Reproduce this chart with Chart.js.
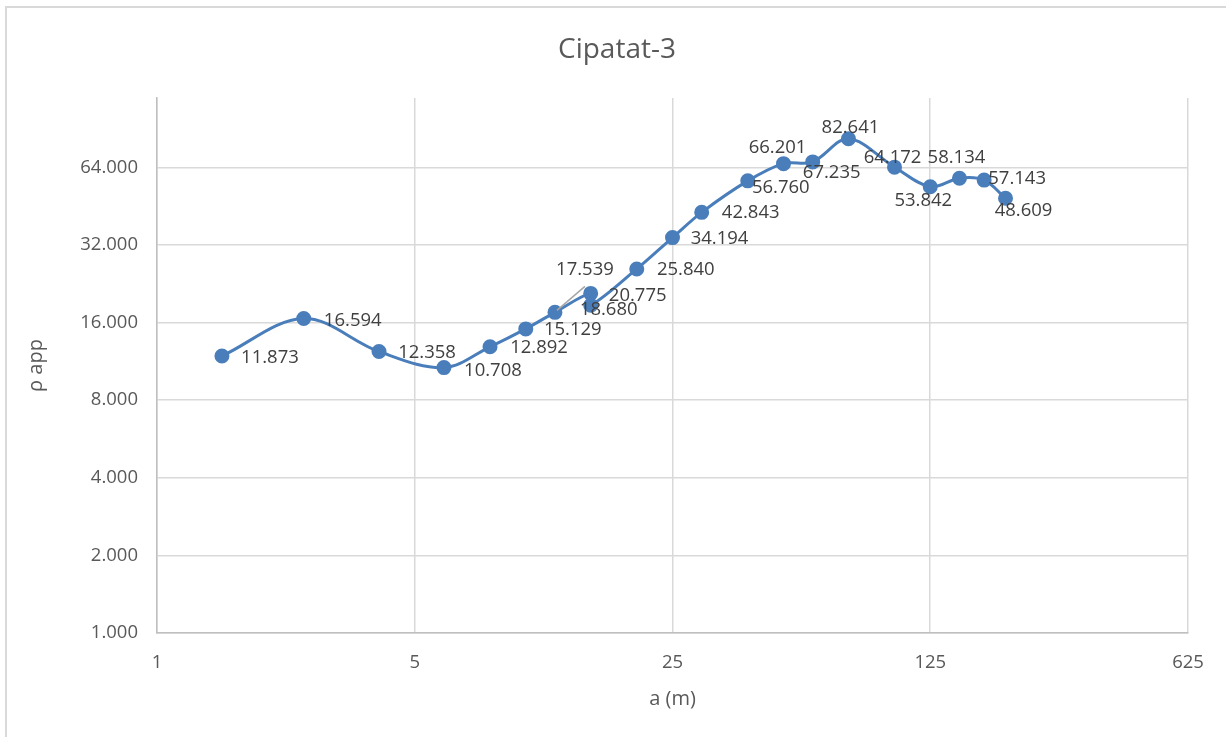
<!DOCTYPE html>
<html>
<head>
<meta charset="utf-8">
<title>Cipatat-3</title>
<script src="https://cdn.jsdelivr.net/npm/chart.js@4/dist/chart.umd.min.js"></script>
<style>
    html, body { margin: 0; padding: 0; background: #fff; }
    #wrap { position: relative; width: 1226px; height: 737px; overflow: hidden; }
    #frame { position: absolute; left: 5px; top: 6px; width: 1300px; height: 800px;
             border-left: 2px solid #d9d9d9; border-top: 2px solid #d9d9d9; }
    canvas { position: absolute; left: 0; top: 0; }
</style>
</head>
<body>
<div id="wrap">
    <div id="frame"></div>
    <canvas id="sondingChart" width="1226" height="737"></canvas>
</div>
<script>
// spasi elektroda a (m)
const spacing = [1.5, 2.5, 4, 6, 8, 10, 12, 15, 15, 20, 25, 30, 40, 50, 60, 75, 100, 125, 150, 175, 200];
// resistivitas semu
const rhoApp = [11.873, 16.594, 12.358, 10.708, 12.892, 15.129, 17.539, 20.775, 18.680, 25.840,
                34.194, 42.843, 56.760, 66.201, 67.235, 82.641, 64.172, 53.842, 58.134, 57.143, 48.609];

const xTicks = [1, 5, 25, 125, 625];
const yTicks = [1, 2, 4, 8, 16, 32, 64];

const chartTitle = 'Cipatat-3';

// posisi label data relatif ke titik (pusat teks)
const labelShift = [
    [48, 2], [49, 2], [48, 1], [49, 3], [49, 1], [47, 1], [30, -43], [47, 2], [18, 4], [49, 1],
    [47, 1], [49, 0], [33, 7], [-6, -16], [19, 11], [2, -11], [-2, -9], [-7, 14], [-3, -20], [33, -1], [18, 13]
];

const points = spacing.map((a, i) => ({ x: a, y: rhoApp[i] }));

// judul digambar manual supaya posisinya sama dengan Excel
const titleText = {
    id: 'titleText',
    afterDraw(chart) {
        const ctx = chart.ctx;
        ctx.save();
        ctx.font = '28px "Open Sans", sans-serif';
        ctx.fillStyle = '#595959';
        ctx.textAlign = 'center';
        ctx.textBaseline = 'middle';
        ctx.fillText(chartTitle, 617, 50);
        ctx.restore();
    }
};

const pointLabels = {
    id: 'pointLabels',
    afterDatasetsDraw(chart) {
        const ctx = chart.ctx;
        const meta = chart.getDatasetMeta(0);
        ctx.save();
        ctx.font = '18.5px "Open Sans", sans-serif';
        ctx.fillStyle = '#404040';
        ctx.textAlign = 'center';
        ctx.textBaseline = 'middle';
        meta.data.forEach((pt, i) => {
            const s = labelShift[i];
            const lx = pt.x + s[0];
            const ly = pt.y + s[1];
            if (i === 6) {
                // garis penunjuk label yang dipindah
                ctx.strokeStyle = '#a6a6a6';
                ctx.lineWidth = 1.5;
                ctx.beginPath();
                ctx.moveTo(pt.x + 2, pt.y - 2);
                ctx.lineTo(lx, ly + 17);
                ctx.stroke();
            }
            ctx.fillText(rhoApp[i].toFixed(3), lx, ly);
        });
        ctx.restore();
    }
};

Chart.defaults.font.family = '"Open Sans", sans-serif';
Chart.defaults.color = '#595959';

const ctx = document.getElementById('sondingChart').getContext('2d');
const chart = new Chart(ctx, {
    type: 'line',
    data: {
        datasets: [{
            label: 'ρ app',
            data: points,
            borderColor: '#4a7ebb',
            backgroundColor: '#4a7ebb',
            borderWidth: 3,
            tension: 0.35,
            pointRadius: 6,
            pointBackgroundColor: '#4a7ebb',
            pointBorderColor: '#4a7ebb',
            fill: false
        }]
    },
    options: {
        responsive: false,
        animation: false,
        devicePixelRatio: 1,
        layout: { padding: { left: 24, right: 38, top: 98, bottom: 26 } },
        plugins: {
            legend: { display: false },
            tooltip: { enabled: false },
            title: { display: false }
        },
        scales: {
            x: {
                type: 'logarithmic',
                min: 1,
                max: 625,
                afterBuildTicks: scale => { scale.ticks = xTicks.map(v => ({ value: v })); },
                afterFit: scale => { scale.height = 78; },
                ticks: {
                    padding: 19,
                    color: '#595959',
                    font: { size: 18.5 },
                    maxRotation: 0,
                    callback: v => String(v)
                },
                grid: { color: '#d9d9d9', lineWidth: 1.5, drawTicks: false },
                border: { color: '#bfbfbf', width: 1.5 },
                title: {
                    display: true,
                    text: 'a (m)',
                    color: '#595959',
                    font: { size: 20 },
                    padding: 0
                }
            },
            y: {
                type: 'logarithmic',
                min: 1,
                max: 119,
                afterBuildTicks: scale => { scale.ticks = yTicks.map(v => ({ value: v })); },
                afterFit: scale => { scale.width = 133; },
                ticks: {
                    padding: 19,
                    color: '#595959',
                    font: { size: 18.5 },
                    callback: v => Number(v).toFixed(3)
                },
                grid: { color: '#d9d9d9', lineWidth: 1.5, drawTicks: false },
                border: { color: '#bfbfbf', width: 1.5 },
                title: {
                    display: true,
                    text: 'ρ app',
                    color: '#595959',
                    font: { size: 20 },
                    padding: 0
                }
            }
        }
    },
    plugins: [pointLabels, titleText]
});
</script>
</body>
</html>
